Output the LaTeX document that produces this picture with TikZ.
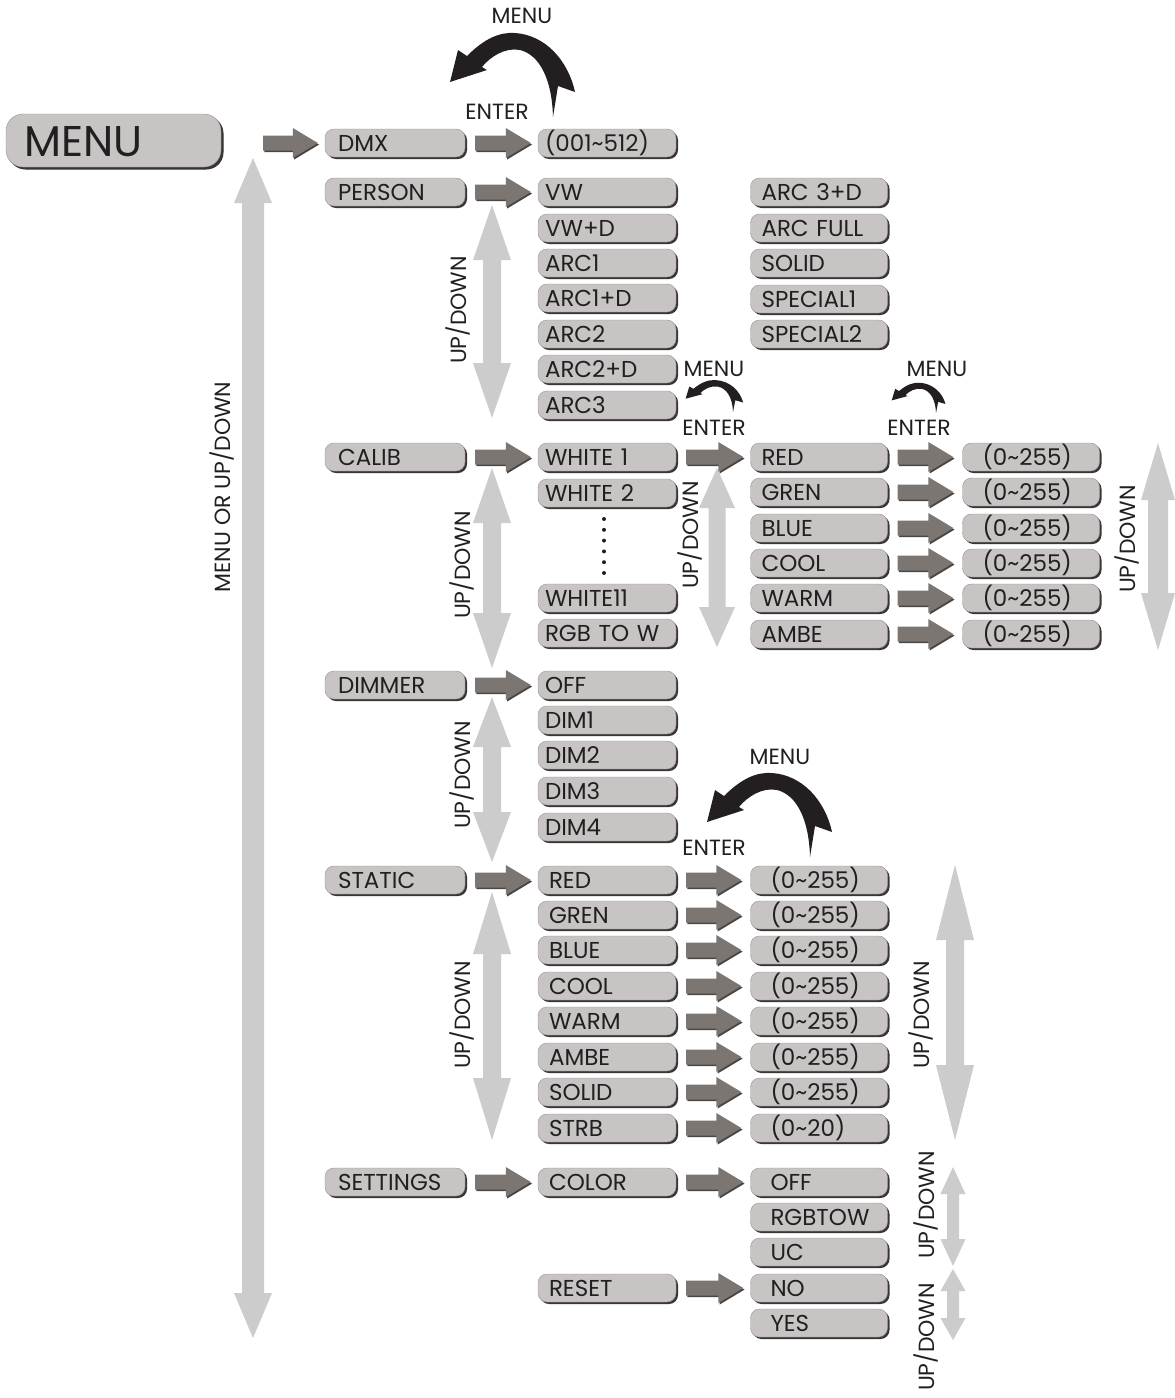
\documentclass[tikz,border=0pt]{standalone}
\usepackage{fontspec}
\setmainfont{Poppins}
\usetikzlibrary{shadows,calc}
\definecolor{boxfill}{HTML}{C9C4C4}
\definecolor{boxshadow}{HTML}{3A3636}
\definecolor{darr}{HTML}{7C7672}
\definecolor{darredge}{HTML}{4A4644}
\definecolor{larr}{HTML}{CCCCCC}
\definecolor{ink}{HTML}{231F20}
\tikzset{
  btn/.style={rounded corners=9pt, fill=boxfill, draw=boxfill!75!black, line width=0.4pt,
    minimum height=28pt, inner ysep=0pt, text height=16pt, text depth=0pt, align=left,
    font=\fontsize{23}{27}\selectfont, text=ink,
    drop shadow={shadow xshift=2pt, shadow yshift=-2pt, fill=boxshadow, opacity=1}},
  cA/.style={btn, inner xsep=13pt, text width=114pt},
  cB/.style={btn, inner xsep=7pt, text width=124pt},
  cC/.style={btn, inner xsep=11pt, text width=115pt},
  cD/.style={btn, inner xsep=20pt, text width=97pt},
  lbl/.style={font=\fontsize{22}{22}\selectfont, text=ink, inner sep=0pt},
}
\newcommand\rarr[4]{%
  \coordinate (ra) at ($(#1.east |- #2.west)+(#3,0)$);
  \coordinate (rb) at ($(#2.west)+(-#4,0)$);
  \fill[darredge, transform canvas={shift={(1.2,1.6)}}] ($(ra)+(0,-7.5)$) -- ($(rb)+(-25,-7.5)$) -- ($(rb)+(-25,-15)$) -- (rb) -- ($(rb)+(-25,15)$) -- ($(rb)+(-25,7.5)$) -- ($(ra)+(0,7.5)$) -- cycle;
  \fill[darr] ($(ra)+(0,-7.5)$) -- ($(rb)+(-25,-7.5)$) -- ($(rb)+(-25,-15)$) -- (rb) -- ($(rb)+(-25,15)$) -- ($(rb)+(-25,7.5)$) -- ($(ra)+(0,7.5)$) -- cycle;
}
\newcommand\udarr[6]{%
  \fill[larr] (#1,#2) -- ({#1+#5},{#2+#6}) -- ({#1+#4},{#2+#6}) -- ({#1+#4},{#3-#6}) -- ({#1+#5},{#3-#6}) -- (#1,#3) -- ({#1-#5},{#3-#6}) -- ({#1-#4},{#3-#6}) -- ({#1-#4},{#2+#6}) -- ({#1-#5},{#2+#6}) -- cycle;
}
\newcommand\curvarr[3]{%
  \fill[ink, shift={#1}, xscale=#2, yscale=#3] (0,0) .. controls (-1,-37) and (-13,-62) .. (-33,-67) .. controls (-48,-70) and (-63,-60) .. (-71,-50) -- (-66,-47) -- (-103,-35) -- (-95,-67) -- (-86,-61) .. controls (-68,-79) and (-53,-85) .. (-38,-84) .. controls (-8,-82) and (15,-57) .. (22,-25) -- (5,-31) -- cycle;
}
\begin{document}
\begin{tikzpicture}[x=1pt, y=-1pt]
\useasboundingbox[fill=white] (0,0) rectangle (1175,1398);

% light up/down arrows
\udarr{253}{158}{1338}{11}{19}{45}
\udarr{492}{205}{418}{9}{19}{55}
\udarr{492}{468}{668}{9}{19}{55}
\udarr{717}{468}{647}{8.5}{18}{40}
\udarr{1158}{443}{650}{10}{17}{57}
\udarr{492}{697}{862}{9}{19}{50}
\udarr{492}{892}{1140}{9}{19}{62}
\udarr{955}{865}{1140}{9}{19}{75}
\udarr{953}{1167}{1266}{6}{12.5}{27}
\udarr{953}{1269}{1340}{6}{12.5}{22}

% main menu
\node[btn, rounded corners=17pt, minimum width=215pt, minimum height=53pt, inner xsep=18pt, text width=179pt, text height=31pt,
  font=\fontsize{43}{48}\selectfont, drop shadow={shadow xshift=2.5pt, shadow yshift=-2.5pt, fill=boxshadow, opacity=1}] (menu) at (113.5,140.5) {MENU};

% column 1
\node[cA] (dmx) at (395,143) {DMX};
\node[cA] (person) at (395,192) {PERSON};
\node[cA] (calib) at (395,457) {CALIB};
\node[cA] (dimmer) at (395,685) {DIMMER};
\node[cA] (static) at (395,880) {STATIC};
\node[cA] (settings) at (395,1182) {SETTINGS};

% column 2
\node[cB] (dmxval) at (607,143) {(001\textasciitilde512)};
\node[cB] (p1) at (607,192) {VW};
\node[cB] (p2) at (607,228) {VW+D};
\node[cB] (p3) at (607,263) {ARC1};
\node[cB] (p4) at (607,298) {ARC1+D};
\node[cB] (p5) at (607,334) {ARC2};
\node[cB] (p6) at (607,369) {ARC2+D};
\node[cB] (p7) at (607,405) {ARC3};
\node[cB] (w1) at (607,457) {WHITE 1};
\node[cB] (w2) at (607,493) {WHITE 2};
\node[cB] (w11) at (607,598) {WHITE11};
\node[cB] (rgbw) at (607,633) {RGB TO W};
\node[cB] (d0) at (607,685) {OFF};
\node[cB] (d1) at (607,720) {DIM1};
\node[cB] (d2) at (607,755) {DIM2};
\node[cB] (d3) at (607,791) {DIM3};
\node[cB] (d4) at (607,827) {DIM4};
\node[cB, inner xsep=11pt, text width=116pt] (s1) at (607,880) {RED};
\node[cB, inner xsep=11pt, text width=116pt] (s2) at (607,915) {GREN};
\node[cB, inner xsep=11pt, text width=116pt] (s3) at (607,950) {BLUE};
\node[cB, inner xsep=11pt, text width=116pt] (s4) at (607,986) {COOL};
\node[cB, inner xsep=11pt, text width=116pt] (s5) at (607,1021) {WARM};
\node[cB, inner xsep=11pt, text width=116pt] (s6) at (607,1057) {AMBE};
\node[cB, inner xsep=11pt, text width=116pt] (s7) at (607,1092) {SOLID};
\node[cB, inner xsep=11pt, text width=116pt] (s8) at (607,1128) {STRB};
\node[cB, inner xsep=11pt, text width=116pt] (color) at (607,1182) {COLOR};
\node[cB, inner xsep=11pt, text width=116pt] (reset) at (607,1288) {RESET};

% dots
\foreach \i in {0,...,5} \fill[ink] (604,{519+\i*10.8}) circle (2pt);

% column 3
\node[cC] (pa) at (819,192) {ARC 3+D};
\node[cC] (pb) at (819,228) {ARC FULL};
\node[cC] (pc) at (819,263) {SOLID};
\node[cC] (pd) at (819,299) {SPECIAL1};
\node[cC] (pe) at (819,334) {SPECIAL2};
\node[cC] (cr) at (819,457) {RED};
\node[cC] (cg) at (819,492) {GREN};
\node[cC] (cb) at (819,528) {BLUE};
\node[cC] (cc) at (819,563) {COOL};
\node[cC] (cw) at (819,598) {WARM};
\node[cC] (ca) at (819,634) {AMBE};
\node[cD] (sv1) at (819,880) {(0\textasciitilde255)};
\node[cD] (sv2) at (819,915) {(0\textasciitilde255)};
\node[cD] (sv3) at (819,950) {(0\textasciitilde255)};
\node[cD] (sv4) at (819,986) {(0\textasciitilde255)};
\node[cD] (sv5) at (819,1021) {(0\textasciitilde255)};
\node[cD] (sv6) at (819,1057) {(0\textasciitilde255)};
\node[cD] (sv7) at (819,1092) {(0\textasciitilde255)};
\node[cD] (sv8) at (819,1128) {(0\textasciitilde20)};
\node[cD] (off) at (819,1182) {OFF};
\node[cD] (rgbtow) at (819,1217) {RGBTOW};
\node[cD] (uc) at (819,1252) {UC};
\node[cD] (no) at (819,1288) {NO};
\node[cD] (yes) at (819,1323) {YES};

% column 4
\node[cD] (v1) at (1031,457) {(0\textasciitilde255)};
\node[cD] (v2) at (1031,492) {(0\textasciitilde255)};
\node[cD] (v3) at (1031,528) {(0\textasciitilde255)};
\node[cD] (v4) at (1031,563) {(0\textasciitilde255)};
\node[cD] (v5) at (1031,598) {(0\textasciitilde255)};
\node[cD] (v6) at (1031,634) {(0\textasciitilde255)};

% dark arrows
\rarr{menu}{dmx}{42}{7}
\rarr{dmx}{dmxval}{10}{7}
\rarr{person}{p1}{10}{7}
\rarr{calib}{w1}{10}{7}
\rarr{w1}{cr}{10}{7}
\rarr{dimmer}{d0}{10}{7}
\rarr{static}{s1}{10}{7}
\rarr{settings}{color}{10}{7}
\rarr{color}{off}{10}{7}
\rarr{reset}{no}{10}{7}
\foreach \a/\b in {cr/v1,cg/v2,cb/v3,cc/v4,cw/v5,ca/v6,s1/sv1,s2/sv2,s3/sv3,s4/sv4,s5/sv5,s6/sv6,s7/sv7,s8/sv8} {\rarr{\a}{\b}{10}{9}}

% curved arrows
\curvarr{(553,117)}{1}{1}
\curvarr{(810,857)}{1}{1}
\curvarr{(733,412)}{0.46}{0.38}
\curvarr{(936,413)}{0.43}{0.36}

% labels
\node[lbl] (tmenu) at (522,16) {MENU};
\node[lbl] (tenter) at (497,112) {ENTER};
\node[lbl] (smenu1) at (714,369) {MENU};
\node[lbl] (senter1) at (714,428) {ENTER};
\node[lbl] (smenu2) at (937,369) {MENU};
\node[lbl] (senter2) at (919,428) {ENTER};
\node[lbl] (stmenu) at (780,757) {MENU};
\node[lbl] (stenter) at (714,848) {ENTER};
\node[lbl, rotate=90] (udall) at (222,487) {MENU OR UP/DOWN};
\node[lbl, rotate=90] (ud1) at (458,310) {UP/DOWN};
\node[lbl, rotate=90] (ud2) at (462,565) {UP/DOWN};
\node[lbl, rotate=90] (ud3) at (690,535) {UP/DOWN};
\node[lbl, rotate=90] (ud4) at (1127,539) {UP/DOWN};
\node[lbl, rotate=90] (ud5) at (462,775) {UP/DOWN};
\node[lbl, rotate=90] (ud6) at (462,1015) {UP/DOWN};
\node[lbl, rotate=90] (ud7) at (921,1015) {UP/DOWN};
\node[lbl, rotate=90] (ud8) at (926,1205) {UP/DOWN};
\node[lbl, rotate=90] (ud9) at (926,1337) {UP/DOWN};
\end{tikzpicture}
\end{document}
